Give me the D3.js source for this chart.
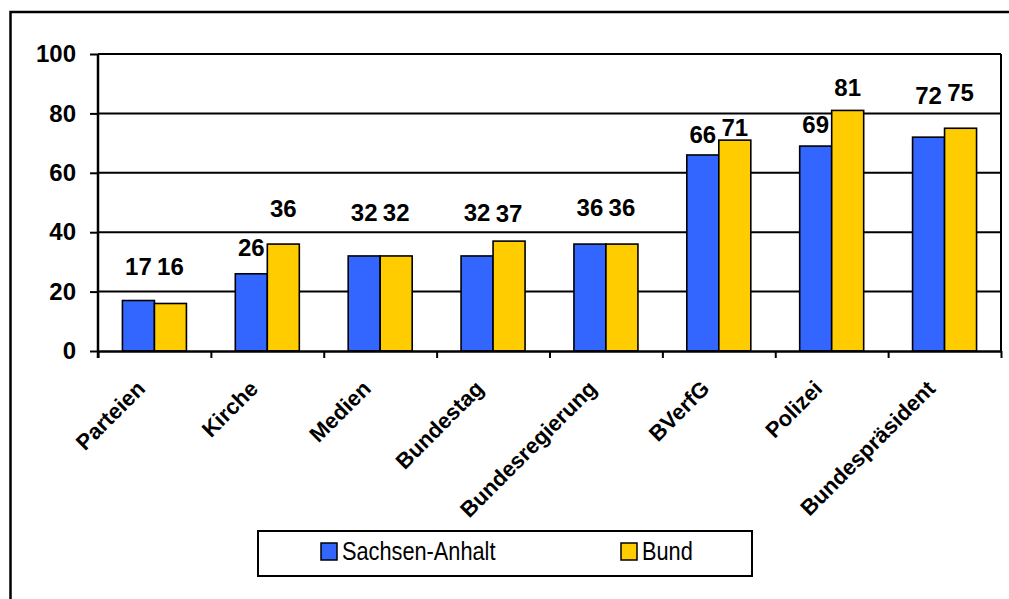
<!DOCTYPE html>
<html>
<head>
<meta charset="utf-8">
<script src="https://cdnjs.cloudflare.com/ajax/libs/d3/7.8.5/d3.min.js"></script>
<style>
body { margin:0; background:#fff; }
svg { display:block; font-family:"Liberation Sans", Arial, sans-serif; }
</style>
</head>
<body>
<svg width="1009" height="599"></svg>
<script>
// Vertrauen in Institutionen, Sachsen-Anhalt vs. Bund
var categories = ["Parteien","Kirche","Medien","Bundestag","Bundesregierung","BVerfG","Polizei","Bundespräsident"]
var seriesNames = ["Sachsen-Anhalt","Bund"]
var sachsenAnhalt = [17,26,32,32,36,66,69,72]
var bund = [16,36,32,37,36,71,81,75]
var yTicks = [0,20,40,60,80,100]

// label offsets above bar tops (px), the labels were moved by hand in the original
var labelLift = [[25.5,28.5],[18,27.5],[34.5,34.5],[34.5,19.6],[27.6,27.6],[12,4],[13,14],[33,27]]

var colors = ["#3366ff","#ffcc00"]

var svg = d3.select("svg"),
	plotL = 98, plotR = 1001, plotT = 54, plotB = 351,
	barW = 32

// outer chart frame, runs off the picture at right/bottom
svg.append("rect")
	.attr("x",10.5).attr("y",12).attr("width",1100).attr("height",700)
	.style("fill","none").style("stroke","#000").style("stroke-width",2.5)

var y = d3.scaleLinear().domain([0,100]).range([plotB, plotT])
var x0 = d3.scaleBand().domain(categories).range([plotL, plotR]).padding(0)
var x1 = d3.scaleBand().domain(seriesNames)
	.range([(x0.bandwidth()-2*barW)/2, (x0.bandwidth()+2*barW)/2])
var xl = d3.scaleLinear().domain([0,categories.length]).range([plotL, plotR])

// gridlines
svg.append("g").selectAll("line").data(yTicks.filter(function(d){return d>0}))
	.enter().append("line")
	.attr("x1",plotL).attr("x2",plotR)
	.attr("y1",function(d){return y(d)}).attr("y2",function(d){return y(d)})
	.style("stroke","#000").style("stroke-width",2)

// right border of plot area
svg.append("line").attr("x1",plotR).attr("x2",plotR).attr("y1",plotT).attr("y2",plotB)
	.style("stroke","#000").style("stroke-width",2)

var rows = categories.map(function(c,i){ return {cat:c, i:i, vals:[sachsenAnhalt[i], bund[i]]} })

var groups = svg.append("g").selectAll("g").data(rows).enter().append("g")
	.attr("transform",function(d){ return "translate(" + x0(d.cat) + ",0)" })

groups.selectAll("rect").data(function(d){ return d.vals.map(function(v,k){ return {v:v,k:k} }) })
	.enter().append("rect")
	.attr("x",function(d){ return x1(seriesNames[d.k]) })
	.attr("y",function(d){ return y(d.v) })
	.attr("width",x1.bandwidth())
	.attr("height",function(d){ return y(0) - y(d.v) })
	.style("fill",function(d){ return colors[d.k] })
	.style("stroke","#000").style("stroke-width",1.6)

groups.selectAll("text").data(function(d){ return d.vals.map(function(v,k){ return {v:v,k:k,i:d.i} }) })
	.enter().append("text")
	.attr("x",function(d){ return x1(seriesNames[d.k]) + x1.bandwidth()/2 })
	.attr("y",function(d){ return y(d.v) - labelLift[d.i][d.k] })
	.attr("text-anchor","middle")
	.style("font-size","24px").style("font-weight","bold")
	.text(function(d){ return d.v })

// y axis
var yAxis = svg.append("g").attr("transform","translate(" + plotL + ",0)")
	.call(d3.axisLeft(y).tickValues(yTicks).tickSizeInner(8).tickSizeOuter(0).tickPadding(14))
yAxis.select(".domain").attr("d","M0," + plotT + "V" + (plotB+7)).style("stroke-width",2.5)
yAxis.selectAll(".tick line").style("stroke-width",2)
yAxis.selectAll("text").style("font-size","24px").style("font-weight","bold")
	.style("font-family","'Liberation Sans', Arial, sans-serif").attr("fill","#000")

// x axis: ticks between categories
var xAxis = svg.append("g").attr("transform","translate(0," + plotB + ")")
	.call(d3.axisBottom(xl).ticks(categories.length).tickFormat("").tickSizeInner(7).tickSizeOuter(0))
xAxis.select(".domain").style("stroke-width",2.5)
xAxis.selectAll(".tick line").style("stroke-width",2)

svg.append("g").selectAll("text").data(categories).enter().append("text")
	.attr("transform",function(d){
		return "translate(" + (x0(d) + x0.bandwidth()/2 - 8) + "," + 390 + ") rotate(-45)"
	})
	.attr("text-anchor","end")
	.style("font-size","22px").style("font-weight","bold")
	.text(function(d){ return d })

// legend (text is a bit narrow/tall in the original)
var leg = svg.append("g")
leg.append("rect").attr("x",258).attr("y",531).attr("width",494).attr("height",45)
	.style("fill","#fff").style("stroke","#000").style("stroke-width",2)
var legX = [321, 621]
var items = leg.selectAll("g").data(seriesNames).enter().append("g")
	.attr("transform",function(d,i){ return "translate(" + legX[i] + ",543)" })
items.append("rect").attr("width",16).attr("height",17)
	.style("fill",function(d,i){ return colors[i] })
	.style("stroke","#000").style("stroke-width",1.5)
items.append("text")
	.attr("transform","translate(21,17) scale(0.87,1)")
	.style("font-size","25px")
	.text(function(d){ return d })
</script>
</body>
</html>
